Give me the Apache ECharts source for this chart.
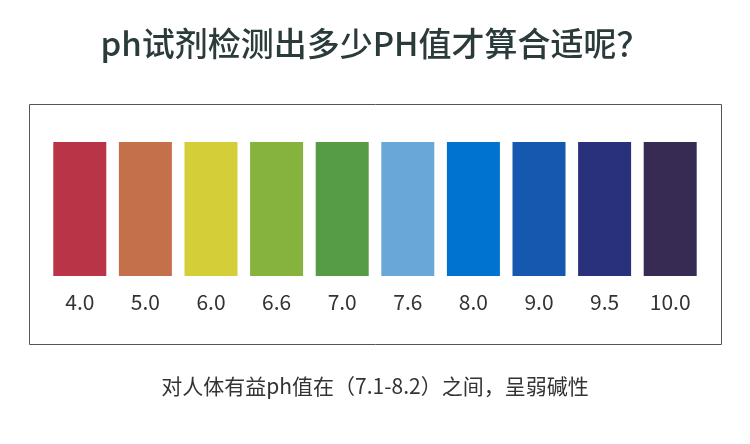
<!DOCTYPE html>
<html>
<head>
<meta charset="utf-8">
<script src="https://cdn.jsdelivr.net/npm/echarts@6/dist/echarts.min.js"></script>
<style>html,body{margin:0;padding:0;background:#fff;}#main{width:750px;height:444px;}</style>
</head>
<body>
<div id="main"></div>
<script>
var phLabels = ['4.0', '5.0', '6.0', '6.6', '7.0', '7.6', '8.0', '9.0', '9.5', '10.0'];
var barValues = [1, 1, 1, 1, 1, 1, 1, 1, 1, 1];
var barColors = ['#b83446', '#c4704a', '#d4cf38', '#86b23e', '#559c45', '#68a7d8', '#0072cf', '#1558b0', '#2a317c', '#372b54'];

var font = '"Noto Sans CJK SC", "Noto Sans", sans-serif';

echarts.init(document.getElementById('main')).setOption({
  backgroundColor: '#fff',
  animation: false,
  title: [{
    text: 'ph试剂检测出多少PH值才算合适呢？',
    left: 'center',
    top: 22,
    textStyle: {fontFamily: font, fontSize: 33, fontWeight: 500, color: '#2b3a3a'}
  }, {
    text: '对人体有益ph值在（7.1-8.2）之间，呈弱碱性',
    left: 'center',
    top: 371,
    textStyle: {fontFamily: font, fontSize: 21, fontWeight: 'normal', color: '#333'}
  }],
  graphic: [{
    type: 'rect',
    shape: {x: 29.5, y: 104.5, width: 692, height: 240},
    style: {fill: 'none', stroke: '#555', lineWidth: 1},
    z: -1
  }],
  grid: {left: 47, right: 47, top: 142, bottom: 168},
  xAxis: {
    type: 'category',
    data: phLabels,
    axisLine: {show: false},
    axisTick: {show: false},
    axisLabel: {margin: 16, fontSize: 21, fontFamily: font, color: '#333'}
  },
  yAxis: {type: 'value', min: 0, max: 1, show: false},
  series: [{
    type: 'bar',
    barWidth: 53,
    data: barValues.map(function (v, i) {
      return {value: v, itemStyle: {color: barColors[i]}};
    })
  }]
});
</script>
</body>
</html>
